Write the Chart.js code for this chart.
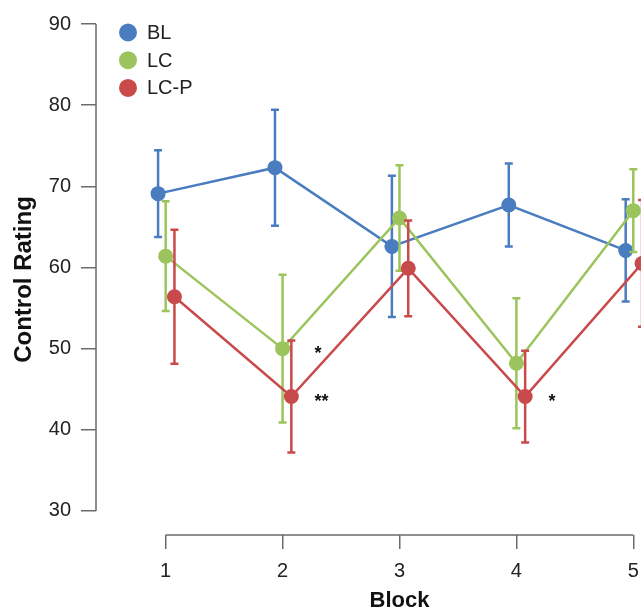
<!DOCTYPE html>
<html>
<head>
<meta charset="utf-8">
<script src="https://cdn.jsdelivr.net/npm/chart.js@4.4.0/dist/chart.umd.min.js"></script>
<style>
  html, body { margin: 0; padding: 0; background: #fff; }
  #wrap { width: 641px; height: 611px; }
</style>
</head>
<body>
<div id="wrap"><canvas id="graph"></canvas></div>
<script>
/*
* données
*/
const blocks = [1, 2, 3, 4, 5];
const yTicks = [30, 40, 50, 60, 70, 80, 90];

const blMean = [69.1, 72.3, 62.6, 67.7, 62.1];
const blErr = [5.35, 7.15, 8.7, 5.1, 6.3];

const lcMean = [61.4, 50.0, 66.1, 48.2, 67.0];
const lcErr = [6.75, 9.1, 6.5, 8.0, 5.1];

const lcpMean = [56.4, 44.1, 59.9, 44.1, 60.5];
const lcpErr = [8.25, 6.9, 5.9, 5.65, 7.8];

// étoiles de significativité : bloc, série (index), texte
const starBlocks = [2, 2, 4];
const starSeries = [1, 2, 2];
const starLabels = ['*', '**', '*'];

const FONT = "'Liberation Sans', Arial, sans-serif";
Chart.defaults.font.family = FONT;
Chart.defaults.color = '#222';

// décalage horizontal de chaque série autour du bloc
function makeSet(label, means, errs, color, dodge, order) {
  return {
    label: label,
    data: blocks.map((b, i) => ({ x: b + dodge, y: means[i] })),
    errors: errs,
    borderColor: color,
    backgroundColor: color,
    pointBackgroundColor: color,
    pointBorderColor: color,
    pointRadius: 7.5,
    pointBorderWidth: 0,
    borderWidth: 2.5,
    tension: 0,
    clip: false,
    order: order
  };
}

//barres d'erreur dessinées avec les échelles du graphique
const errorBars = {
  id: 'errorBars',
  beforeDatasetDraw(chart, args) {
    const ds = chart.data.datasets[args.index];
    const y = chart.scales.y;
    const ctx = chart.ctx;
    ctx.save();
    ctx.strokeStyle = ds.borderColor;
    ctx.lineWidth = 2.5;
    args.meta.data.forEach((pt, i) => {
      const m = ds.data[i].y, e = ds.errors[i];
      const top = y.getPixelForValue(m + e);
      const bot = y.getPixelForValue(m - e);
      ctx.beginPath();
      ctx.moveTo(pt.x, top); ctx.lineTo(pt.x, bot);
      ctx.moveTo(pt.x - 4, top); ctx.lineTo(pt.x + 4, top);
      ctx.moveTo(pt.x - 4, bot); ctx.lineTo(pt.x + 4, bot);
      ctx.stroke();
    });
    ctx.restore();
  }
};

// axes "range frame" : la ligne ne couvre que 30-90 et 1-5
const rangeFrame = {
  id: 'rangeFrame',
  beforeDatasetsDraw(chart) {
    const {ctx, chartArea, scales: {x, y}} = chart;
    ctx.save();
    ctx.strokeStyle = '#6b6b6b';
    ctx.lineWidth = 1.5;
    ctx.beginPath();
    ctx.moveTo(chartArea.left, y.getPixelForValue(yTicks[0]));
    ctx.lineTo(chartArea.left, y.getPixelForValue(yTicks[yTicks.length - 1]));
    ctx.moveTo(x.getPixelForValue(blocks[0]), chartArea.bottom);
    ctx.lineTo(x.getPixelForValue(blocks[blocks.length - 1]), chartArea.bottom);
    ctx.stroke();

    // titre de l'axe x centré sous la ligne 1-5
    ctx.font = 'bold 22px ' + FONT;
    ctx.fillStyle = '#111';
    ctx.textAlign = 'center';
    ctx.textBaseline = 'middle';
    const mid = (x.getPixelForValue(blocks[0]) + x.getPixelForValue(blocks[blocks.length - 1])) / 2;
    ctx.fillText('Block', mid, x.bottom - 10);
    ctx.restore();
  }
};

// légende + étoiles
const extras = {
  id: 'extras',
  afterDatasetsDraw(chart) {
    const {ctx, chartArea, scales: {x, y}} = chart;
    ctx.save();
    ctx.font = '20px ' + FONT;
    ctx.textBaseline = 'middle';
    ctx.textAlign = 'left';
    chart.data.datasets.forEach((ds, i) => {
      const cy = chartArea.top + 8.5 + i * 27.7;
      ctx.fillStyle = ds.backgroundColor;
      ctx.beginPath();
      ctx.arc(chartArea.left + 32, cy, 9, 0, Math.PI * 2);
      ctx.fill();
      ctx.fillStyle = '#222';
      ctx.fillText(ds.label, chartArea.left + 51, cy + 1);
    });

    ctx.font = 'bold 18px ' + FONT;
    ctx.textBaseline = 'alphabetic';
    ctx.fillStyle = '#111';
    starLabels.forEach((txt, i) => {
      const ds = chart.data.datasets[starSeries[i]];
      const b = blocks.indexOf(starBlocks[i]);
      const px = x.getPixelForValue(starBlocks[i]) + 32;
      const py = y.getPixelForValue(ds.data[b].y);
      ctx.fillText(txt, px, py + 10);
    });
    ctx.restore();
  }
};

const ctx = document.getElementById('graph').getContext('2d');
const chart = new Chart(ctx, {
  type: 'line',
  data: {
    datasets: [
      makeSet('BL', blMean, blErr, '#4a7cc0', -0.065, 3),
      makeSet('LC', lcMean, lcErr, '#9cc45c', 0, 2),
      makeSet('LC-P', lcpMean, lcpErr, '#c94a4a', 0.075, 1)
    ]
  },
  options: {
    responsive: true,
    maintainAspectRatio: false,
    animation: false,
    // pas de marge auto autour des points : la zone va jusqu'au bord droit
    layout: { autoPadding: false, padding: { top: 24, left: 0, right: 0, bottom: 0 } },
    plugins: {
      legend: { display: false },
      tooltip: { enabled: false }
    },
    scales: {
      x: {
        type: 'linear',
        min: 0.404,
        max: 5.066,
        afterBuildTicks: (scale) => { scale.ticks = blocks.map(v => ({ value: v })); },
        afterFit: (scale) => { scale.height = 76; },
        border: { display: false },
        grid: { drawOnChartArea: false, drawTicks: true, tickLength: 14, color: '#6b6b6b', lineWidth: 1.5 },
        ticks: { padding: 0, maxRotation: 0, color: '#222', font: { size: 20, lineHeight: 2.2 } },
        title: { display: false }
      },
      y: {
        min: 27.04,
        max: 90,
        afterBuildTicks: (scale) => { scale.ticks = yTicks.map(v => ({ value: v })); },
        afterFit: (scale) => { scale.width = 96; },
        border: { display: false },
        grid: { drawOnChartArea: false, drawTicks: true, tickLength: 15, color: '#6b6b6b', lineWidth: 1.5 },
        ticks: { padding: 10, color: '#222', font: { size: 20 } },
        title: {
          display: true,
          text: 'Control Rating',
          color: '#111',
          font: { size: 24, weight: 'bold', lineHeight: 1.2 },
          padding: { top: 10, bottom: 0 }
        }
      }
    }
  },
  plugins: [errorBars, rangeFrame, extras]
});
</script>
</body>
</html>
